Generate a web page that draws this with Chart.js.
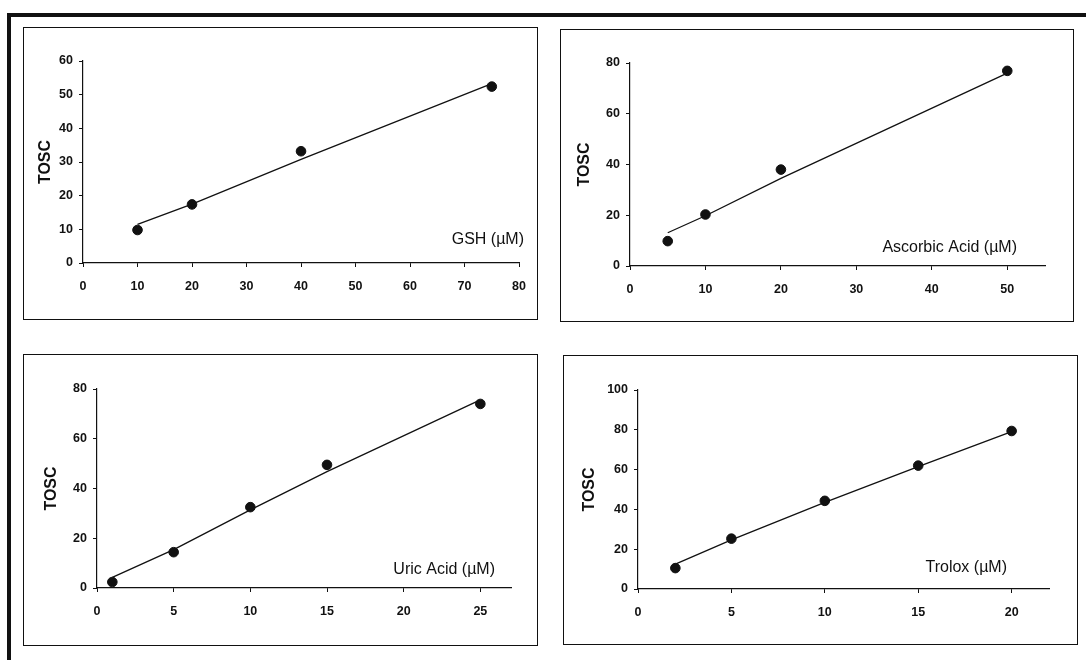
<!DOCTYPE html>
<html>
<head>
<meta charset="utf-8">
<script src="https://cdn.jsdelivr.net/npm/chart.js@4.4.1/dist/chart.umd.min.js"></script>
<style>
  html, body { margin: 0; padding: 0; background: #fff; }
  body { width: 1086px; height: 660px; position: relative; overflow: hidden; }
  .marco { position: absolute; background: #111; }
  .caja { position: absolute; box-sizing: border-box; border: 1.5px solid #111; }
  .lienzo { position: absolute; }
</style>
</head>
<body>
<div class="marco" style="left:7px; top:13px; width:1079px; height:4px;"></div>
<div class="marco" style="left:7px; top:13px; width:4px; height:647px;"></div>

<script>
// valores
const gshX = [10, 20, 40, 75];
const gshTosc = [9.8, 17.4, 33.2, 52.4];
const gshAjuste = [11.5, 17.5, 30.8, 53.3];
const gshTicksX = [0, 10, 20, 30, 40, 50, 60, 70, 80];
const gshTicksY = [0, 10, 20, 30, 40, 50, 60];

const ascX = [5, 10, 20, 50];
const ascTosc = [9.8, 20.3, 38.0, 76.9];
const ascAjuste = [13.1, 19.8, 34.5, 76.0];
const ascTicksX = [0, 10, 20, 30, 40, 50];
const ascTicksY = [0, 20, 40, 60, 80];

const uricoX = [1, 5, 10, 15, 25];
const uricoTosc = [2.4, 14.4, 32.5, 49.5, 74.0];
const uricoAjuste = [4.3, 15.4, 31.4, 46.8, 75.6];
const uricoTicksX = [0, 5, 10, 15, 20, 25];
const uricoTicksY = [0, 20, 40, 60, 80];

const troloxX = [2, 5, 10, 15, 20];
const troloxTosc = [10.5, 25.3, 44.3, 62.0, 79.4];
const troloxAjuste = [12.5, 24.7, 43.5, 61.5, 79.1];
const troloxTicksX = [0, 5, 10, 15, 20];
const troloxTicksY = [0, 20, 40, 60, 80, 100];

// paneles: caja, area del grafico y titulos (posiciones en pixeles de pagina)
const paneles = [
  { caja: { x: 23, y: 27, w: 515, h: 293 }, area: { left: 83, top: 61, right: 522, bottom: 263 },
    tituloY: 46, xMax: 80, yMax: 60, xs: gshX, ys: gshTosc, ajuste: gshAjuste,
    ticksX: gshTicksX, ticksY: gshTicksY, etiqueta: 'GSH (µM)', etqDer: 524, etqY: 240 },
  { caja: { x: 560, y: 29, w: 514, h: 293 }, area: { left: 630, top: 63, right: 1045, bottom: 266 },
    tituloY: 585, xMax: 55, yMax: 80, xs: ascX, ys: ascTosc, ajuste: ascAjuste,
    ticksX: ascTicksX, ticksY: ascTicksY, etiqueta: 'Ascorbic Acid (µM)', etqDer: 1017, etqY: 248 },
  { caja: { x: 23, y: 354, w: 515, h: 292 }, area: { left: 97, top: 389, right: 511, bottom: 588 },
    tituloY: 52, xMax: 27, yMax: 80, xs: uricoX, ys: uricoTosc, ajuste: uricoAjuste,
    ticksX: uricoTicksX, ticksY: uricoTicksY, etiqueta: 'Uric Acid (µM)', etqDer: 495, etqY: 570 },
  { caja: { x: 563, y: 355, w: 515, h: 290 }, area: { left: 638, top: 390, right: 1049, bottom: 589 },
    tituloY: 590, xMax: 22, yMax: 100, xs: troloxX, ys: troloxTosc, ajuste: troloxAjuste,
    ticksX: troloxTicksX, ticksY: troloxTicksY, etiqueta: 'Trolox (µM)', etqDer: 1007, etqY: 568 }
];

Chart.defaults.font.family = "'Liberation Sans', Arial, sans-serif";
Chart.defaults.color = '#111';

const etiquetaEje = {
  id: 'etiquetaEje',
  afterDraw(chart, args, opts) {
    const ctx = chart.ctx;
    ctx.save();
    ctx.font = "16px 'Liberation Sans', Arial, sans-serif";
    ctx.fillStyle = '#111';
    ctx.textAlign = 'right';
    ctx.textBaseline = 'middle';
    ctx.fillText(opts.texto, opts.x, opts.y);
    ctx.restore();
  }
};

paneles.forEach((p) => {
  const caja = document.createElement('div');
  caja.className = 'caja';
  caja.style.left = p.caja.x + 'px';
  caja.style.top = p.caja.y + 'px';
  caja.style.width = p.caja.w + 'px';
  caja.style.height = p.caja.h + 'px';
  document.body.appendChild(caja);

  const canvas = document.createElement('canvas');
  canvas.className = 'lienzo';
  canvas.width = p.caja.w;
  canvas.height = p.caja.h;
  canvas.style.left = p.caja.x + 'px';
  canvas.style.top = p.caja.y + 'px';
  document.body.appendChild(canvas);

  const izq = p.area.left - p.caja.x;
  const arriba = p.area.top - p.caja.y;
  const der = p.area.right - p.caja.x;
  const abajo = p.area.bottom - p.caja.y;
  const padIzq = (p.tituloY - p.caja.x) - 9.6;
  const altoX = 32;

  new Chart(canvas, {
    type: 'scatter',
    data: {
      datasets: [
        {
          data: p.ys.map((v, i) => ({ x: p.xs[i], y: v })),
          backgroundColor: '#111',
          borderColor: '#111',
          pointStyle: 'circle',
          pointRadius: 4.8,
          pointHoverRadius: 4.8,
          showLine: false,
          order: 0
        },
        {
          data: p.ajuste.map((v, i) => ({ x: p.xs[i], y: v })),
          borderColor: '#111',
          borderWidth: 1.3,
          pointRadius: 0,
          showLine: true,
          tension: 0,
          order: 1
        }
      ]
    },
    options: {
      responsive: false,
      animation: false,
      events: [],
      layout: {
        padding: {
          left: padIzq,
          top: arriba,
          right: p.caja.w - der,
          bottom: p.caja.h - abajo - altoX
        }
      },
      plugins: {
        legend: { display: false },
        tooltip: { enabled: false },
        etiquetaEje: { texto: p.etiqueta, x: p.etqDer - p.caja.x, y: p.etqY - p.caja.y }
      },
      scales: {
        x: {
          type: 'linear',
          min: 0,
          max: p.xMax,
          afterBuildTicks: (escala) => { escala.ticks = p.ticksX.map((v) => ({ value: v })); },
          afterFit: (escala) => { escala.height = altoX; },
          grid: { drawOnChartArea: false, drawTicks: true, tickLength: 4, tickColor: '#111' },
          border: { color: '#111', width: 1.2 },
          ticks: { font: { size: 12.5, weight: 'bold' }, padding: 12, maxRotation: 0 }
        },
        y: {
          type: 'linear',
          min: 0,
          max: p.yMax,
          afterBuildTicks: (escala) => { escala.ticks = p.ticksY.map((v) => ({ value: v })); },
          afterFit: (escala) => { escala.width = izq - padIzq; },
          grid: { drawOnChartArea: false, drawTicks: true, tickLength: 4, tickColor: '#111' },
          border: { color: '#111', width: 1.2 },
          ticks: { font: { size: 12.5, weight: 'bold' }, padding: 6 },
          title: {
            display: true,
            text: 'TOSC',
            font: { size: 16, weight: 'bold' },
            padding: { top: 0, bottom: 0 }
          }
        }
      }
    },
    plugins: [etiquetaEje]
  });
});
</script>
</body>
</html>
